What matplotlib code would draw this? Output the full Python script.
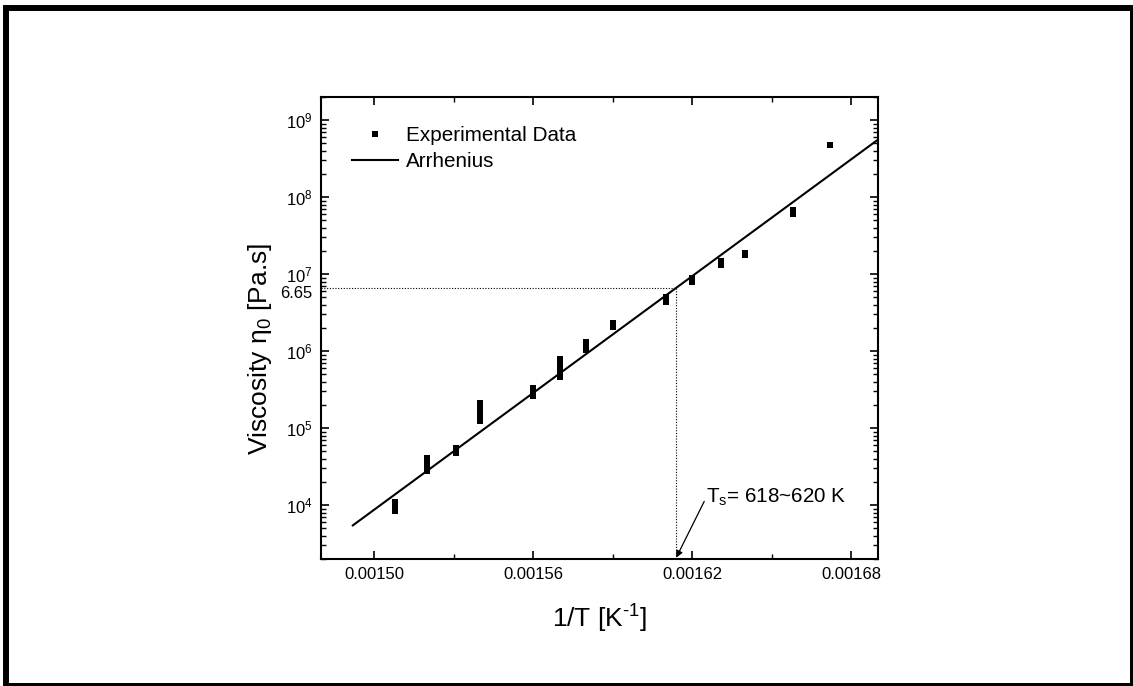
import matplotlib
matplotlib.use('Agg')
import matplotlib.pyplot as plt
import numpy as np
from matplotlib.patches import Rectangle
from matplotlib.ticker import LogLocator, FixedLocator, NullFormatter, LogFormatterMathtext, FixedFormatter

plt.rcParams['font.family'] = ['Liberation Sans', 'DejaVu Sans']
plt.rcParams['mathtext.fontset'] = 'custom'
plt.rcParams['mathtext.rm'] = 'Liberation Sans'
plt.rcParams['mathtext.it'] = 'Liberation Sans:italic'
plt.rcParams['mathtext.default'] = 'regular'

# ---- data ----
inv_T = [0.001508, 0.001508, 0.001508,
         0.00152, 0.00152, 0.00152, 0.00152,
         0.001531, 0.001531, 0.001531,
         0.00154, 0.00154, 0.00154, 0.00154, 0.00154,
         0.00156, 0.00156, 0.00156,
         0.00157, 0.00157, 0.00157, 0.00157, 0.00157, 0.00157,
         0.00158, 0.00158, 0.00158,
         0.00159, 0.00159,
         0.00161, 0.00161, 0.00161,
         0.00162, 0.00162,
         0.001631, 0.001631, 0.001631,
         0.00164, 0.00164,
         0.001658, 0.001658, 0.001658,
         0.001672]
viscosity = [8.5e3, 9.5e3, 1.1e4,
             2.8e4, 3.2e4, 3.6e4, 4.1e4,
             4.8e4, 5.2e4, 5.6e4,
             1.25e5, 1.45e5, 1.7e5, 1.95e5, 2.15e5,
             2.6e5, 2.9e5, 3.3e5,
             4.6e5, 5.2e5, 5.8e5, 6.5e5, 7.2e5, 8.0e5,
             1.05e6, 1.15e6, 1.3e6,
             2.05e6, 2.3e6,
             4.3e6, 4.7e6, 5.1e6,
             8.0e6, 8.8e6,
             1.3e7, 1.4e7, 1.5e7,
             1.8e7, 1.9e7,
             6.0e7, 6.5e7, 6.9e7,
             4.8e8]

# Arrhenius fit: log10(eta) = intercept + slope * (1/T)
arr_intercept = -34.01
arr_slope = 25300.0
arr_x_range = [0.001492, 0.00169]
eta_s = 6.65e6          # viscosity at softening temperature
eta_s_label = '6.65'
ts_label = 'T$_s$= 618~620 K'

x_major = [0.00150, 0.00156, 0.00162, 0.00168]
x_minor = [0.00153, 0.00159, 0.00165]
x_labels = ['0.00150', '0.00156', '0.00162', '0.00168']

# ---- figure ----
fig = plt.figure(figsize=(11.33, 6.86), dpi=100)
ax = fig.add_axes([0.2833, 0.1851, 0.4916, 0.6735])

ax.set_yscale('log')
ax.set_xlim(0.00148, 0.00169)
ax.set_ylim(2e3, 2e9)

ax.plot(inv_T, viscosity, linestyle='none', marker='s', ms=4.6,
        color='black', mew=0, label='Experimental Data')

xfit = np.linspace(arr_x_range[0], arr_x_range[1], 200)
yfit = 10 ** (arr_intercept + arr_slope * xfit)
ax.plot(xfit, yfit, color='black', lw=1.5, label='Arrhenius')

# softening point guide lines
x_s = (np.log10(eta_s) - arr_intercept) / arr_slope
ax.plot([0.00148, x_s], [eta_s, eta_s], color='black', lw=0.8,
        linestyle=(0, (1, 1.5)))
ax.plot([x_s, x_s], [eta_s, 2e3], color='black', lw=0.8,
        linestyle=(0, (1, 1.5)))

ax.annotate(eta_s_label, xy=(0, eta_s), xycoords=('axes fraction', 'data'),
            xytext=(-6, -4), textcoords='offset points',
            ha='right', va='center', fontsize=12)

# annotation arrow and label
ax.annotate('', xy=(x_s, 0.003), xycoords=('data', 'axes fraction'),
            xytext=(0.0016245, 1.12e4), textcoords='data',
            arrowprops=dict(arrowstyle='-|>', color='black', lw=0.9,
                            mutation_scale=10, shrinkA=0, shrinkB=0))
ax.text(0.0016252, 1.08e4, ts_label, fontsize=14.9, ha='left',
        va='baseline')

# ticks
ax.xaxis.set_major_locator(FixedLocator(x_major))
ax.xaxis.set_major_formatter(FixedFormatter(x_labels))
ax.xaxis.set_minor_locator(FixedLocator(x_minor))
ax.yaxis.set_major_locator(LogLocator(base=10, numticks=20))
ax.yaxis.set_major_formatter(LogFormatterMathtext())
ax.yaxis.set_minor_locator(LogLocator(base=10, subs=np.arange(2, 10), numticks=20))
ax.yaxis.set_minor_formatter(NullFormatter())

ax.tick_params(which='both', direction='in', top=True, right=True,
               labelsize=12, pad=6)
ax.tick_params(which='major', length=6, width=1.2)
ax.tick_params(which='minor', length=3.5, width=1.0)
for s in ax.spines.values():
    s.set_linewidth(1.5)

ax.set_xlabel(r'1/T [K$^{\text{-}1}$]', fontsize=19, labelpad=15)
ax.set_ylabel('Viscosity η$_0$ [Pa.s]', fontsize=19)
ax.yaxis.set_label_coords(-0.085, 0.4545)

leg = ax.legend(loc='upper left', bbox_to_anchor=(0.0557, 0.937),
                frameon=False, fontsize=14.9, handlelength=2.22,
                handletextpad=0.37, labelspacing=0.35, borderpad=0,
                borderaxespad=0, numpoints=1)

# outer frame
fig.patches.append(Rectangle((6 / 1133, 0.0), 1.0 - 6 / 1133, 1 - 8 / 686,
                             transform=fig.transFigure, fill=False,
                             edgecolor='black', lw=4.3, zorder=10))

fig.savefig('out.png', dpi=100)
